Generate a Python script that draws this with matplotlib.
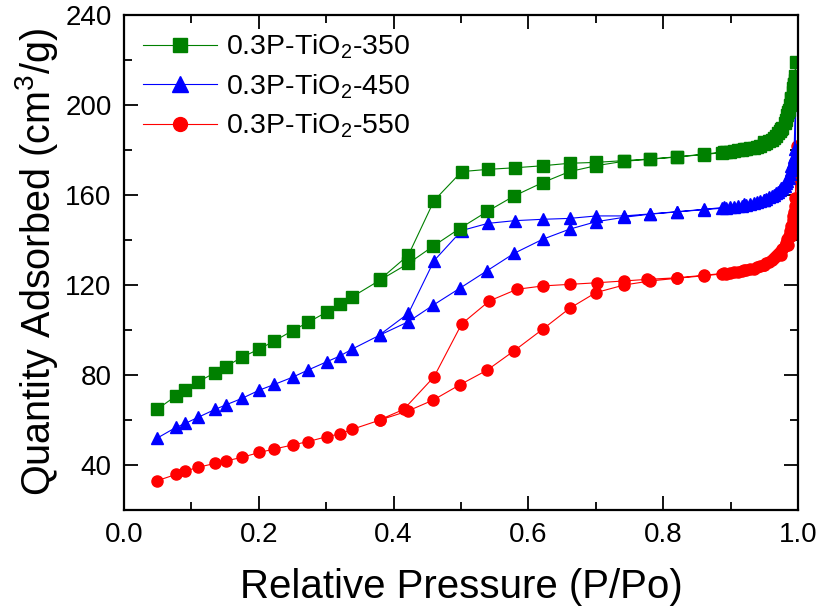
import matplotlib

matplotlib.use("Agg")

import matplotlib.pyplot as plt
import numpy as np

plt.rcParams["font.family"] = ["Liberation Sans", "DejaVu Sans"]
plt.rcParams["mathtext.default"] = "regular"

# Относительное давление, адсорбция (общие точки)
p_ads = [0.049, 0.077, 0.091, 0.110, 0.135, 0.151, 0.175, 0.201, 0.223, 0.250,
         0.273, 0.301, 0.320, 0.339, 0.380, 0.422, 0.459, 0.498, 0.539, 0.579,
         0.621, 0.661, 0.700, 0.742, 0.781, 0.821, 0.860,
         0.887, 0.893, 0.899, 0.905, 0.911, 0.917, 0.923, 0.929, 0.934, 0.939,
         0.944, 0.949, 0.953, 0.957, 0.961, 0.965, 0.968, 0.971, 0.974, 0.977,
         0.980, 0.982, 0.984, 0.986, 0.988, 0.990, 0.992, 0.993, 0.994, 0.995,
         0.996]

# Десорбция
p_des = [0.997, 0.994, 0.990, 0.985, 0.975, 0.950, 0.920, 0.890, 0.860, 0.821,
         0.781, 0.742, 0.701, 0.661, 0.621, 0.580, 0.540, 0.501, 0.460, 0.422,
         0.380]
p_des_550 = [0.998, 0.997, 0.996, 0.994, 0.990, 0.985, 0.975, 0.950, 0.920,
             0.890, 0.860, 0.820, 0.776, 0.742, 0.702, 0.662, 0.622, 0.583,
             0.542, 0.501, 0.460, 0.415, 0.380]

v_ads_350 = [64.7, 70.7, 73.3, 77.0, 81.0, 83.7, 87.9, 91.6, 95.1, 99.7,
             103.4, 108.0, 111.4, 114.8, 122.2, 129.6, 137.3, 145.1, 152.7, 159.6,
             165.5, 170.4, 173.0, 175.0, 175.9, 176.9, 178.0,
             178.8, 179.0, 179.2, 179.5, 179.8, 180.1, 180.4, 180.8, 181.1, 181.5,
             182.0, 182.6, 183.2, 183.8, 184.6, 185.5, 186.4, 187.4, 188.6, 190.0,
             191.8, 193.5, 195.5, 197.6, 200.0, 202.8, 205.6, 207.4, 209.2, 211.0,
             212.8]
v_des_350 = [219.3, 209.5, 203.0, 197.0, 189.5, 183.5, 180.4, 179.2, 178.1, 177.0,
             176.0, 175.3, 174.5, 174.1, 173.0, 172.1, 171.4, 170.4, 157.5, 133.3,
             122.5]

v_ads_450 = [51.9, 56.7, 58.5, 61.2, 64.7, 66.7, 69.6, 73.3, 75.8, 79.0,
             82.2, 85.9, 88.4, 91.6, 97.8, 103.7, 111.1, 118.5, 126.4, 134.1,
             140.3, 144.8, 148.1, 150.1, 151.5, 152.5, 153.5,
             154.1, 154.3, 154.5, 154.7, 155.0, 155.3, 155.6, 156.0, 156.4, 156.8,
             157.3, 157.8, 158.3, 158.9, 159.5, 160.2, 160.8, 161.5, 162.3, 163.2,
             164.2, 165.2, 166.4, 167.7, 169.2, 171.0, 173.0, 174.5, 176.0, 178.0,
             180.5]
v_des_450 = [212.0, 177.0, 173.0, 168.0, 163.0, 158.0, 156.0, 154.5, 153.6, 152.6,
             151.6, 150.7, 150.7, 149.6, 149.2, 148.6, 147.4, 144.2, 130.8, 107.4,
             98.0]

v_ads_550 = [33.0, 35.8, 37.3, 39.0, 40.7, 41.8, 43.4, 45.6, 47.1, 48.9,
             50.4, 52.6, 53.8, 55.9, 60.0, 64.1, 68.9, 75.6, 82.2, 90.8,
             100.3, 109.6, 116.6, 120.0, 121.8, 123.0, 124.1,
             124.9, 125.1, 125.3, 125.6, 125.9, 126.2, 126.5, 126.9, 127.3, 127.8,
             128.4, 129.0, 129.7, 130.4, 131.2, 132.0, 132.8, 133.7, 134.8, 136.0,
             137.4, 138.8, 140.3, 142.0, 144.0, 146.3, 148.9, 150.5, 152.5, 155.0,
             158.5]
v_des_550 = [182.0, 155.0, 149.0, 146.0, 142.0, 138.0, 133.5, 129.0, 126.5, 125.2,
             124.3, 123.2, 122.5, 121.8, 121.0, 120.3, 119.6, 118.1, 112.9, 102.7,
             79.2, 64.7, 60.2]

labels = ["0.3P-TiO$_2$-350", "0.3P-TiO$_2$-450", "0.3P-TiO$_2$-550"]

fig = plt.figure(figsize=(8.21, 6.12), dpi=100)
ax = fig.add_axes([124 / 821, 102 / 612, 674 / 821, 495 / 612])

series = [
    (p_des_550, v_ads_550, v_des_550, "red", "o", 8, labels[2]),
    (p_des, v_ads_450, v_des_450, "blue", "^", 9, labels[1]),
    (p_des, v_ads_350, v_des_350, "green", "s", 8, labels[0]),
]

handles = {}
for pd_, va, vd, color, marker, ms, label in series:
    x = np.concatenate([p_ads, pd_])
    y = np.concatenate([va, vd])
    line, = ax.plot(x, y, color=color, marker=marker, markersize=ms,
                    markeredgecolor=color, linewidth=0.8, label=label)
    handles[label] = line

ax.set_xlim(0.0, 1.0)
ax.set_ylim(20, 240)
ax.set_xticks(np.arange(0.0, 1.01, 0.2))
ax.set_xticks(np.arange(0.1, 1.0, 0.2), minor=True)
ax.set_yticks(np.arange(40, 241, 40))
ax.set_yticks(np.arange(20, 240, 40), minor=True)
ax.set_xticklabels(["0.0", "0.2", "0.4", "0.6", "0.8", "1.0"])

ax.tick_params(which="both", direction="in", top=True, right=True,
               labelsize=20, width=1.3, pad=9)
ax.tick_params(which="major", length=10)
ax.tick_params(which="minor", length=6)
for spine in ax.spines.values():
    spine.set_linewidth(1.6)

ax.set_xlabel("Relative Pressure (P/Po)", fontsize=29, labelpad=14)
ax.set_ylabel("Quantity Adsorbed (cm$^3$/g)", fontsize=28.5, labelpad=4)

ax.legend([handles[l] for l in labels], labels, loc="upper left",
          bbox_to_anchor=(-0.014, 1.022), frameon=False, fontsize=20.5,
          handlelength=2.6, handletextpad=0.3, labelspacing=0.39,
          markerscale=1.25, borderaxespad=0.6)

plt.savefig("out.png", dpi=100)
plt.close(fig)
